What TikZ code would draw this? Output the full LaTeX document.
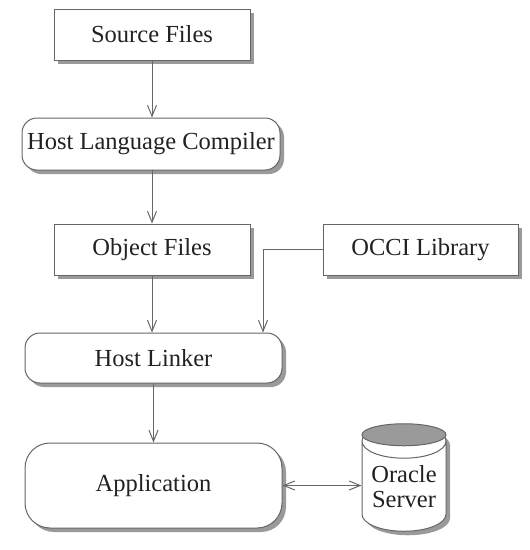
\documentclass[tikz,border=0pt]{standalone}
\usepackage{fontspec}
\setmainfont{Liberation Serif}
\usetikzlibrary{arrows.meta,shapes.geometric,shadows}
\definecolor{linec}{HTML}{666666}
\definecolor{shadc}{HTML}{9A9A9A}
\definecolor{textc}{HTML}{222222}
\begin{document}
\begin{tikzpicture}[x=1pt,y=-1pt,
  base/.style={draw=linec, line width=1pt, fill=white, text=textc,
    font=\fontsize{24.5}{25}\selectfont, inner sep=0pt,
    drop shadow={shadow xshift=4pt, shadow yshift=-4pt, fill=shadc, opacity=1}},
  sqbox/.style={base, rectangle},
  rbox/.style={base, rectangle, rounded corners=15pt},
  conn/.style={draw=linec, line width=1pt, -{Straight Barb[length=11pt,width=9pt]}},
]
\useasboundingbox (0,0) rectangle (530,550);
\node[sqbox, minimum width=196pt, minimum height=51pt] (sf) at (152,34.5) {Source Files};
\node[rbox, minimum width=258pt, minimum height=52pt] (hlc) at (151,144) {Host Language Compiler};
\node[sqbox, minimum width=196pt, minimum height=51pt] (of) at (152,249.5) {Object Files};
\node[sqbox, minimum width=195pt, minimum height=51pt] (occi) at (420.5,249.5) {OCCI Library};
\node[rbox, minimum width=257pt, minimum height=50pt] (hl) at (153.5,358) {Host Linker};
\node[base, rectangle, rounded corners=25pt, minimum width=257pt, minimum height=85pt] (app) at (153.5,485.5) {Application};
\node[base, cylinder, shape border rotate=90, aspect=0.52, align=center,
  minimum width=84pt, minimum height=107pt] (ora) at (404,486.5) {Oracle\\Server};
\filldraw[fill=shadc, draw=linec, line width=1pt] ([yshift=-11pt]ora.north) ellipse [x radius=42pt, y radius=11pt];

\draw[conn] (sf.south) -- (hlc.north -| sf.south);
\draw[conn] (hlc.north -| sf.south) ++(0,52) -- (of.north);
\draw[conn] (of.south) -- (hl.north -| of.south);
\draw[conn] (occi.west) -| ([xshift=109.5pt]hl.north);
\draw[conn] (hl.south) -- (app.north);
\draw[conn, {Straight Barb[length=11pt,width=9pt]}-{Straight Barb[length=11pt,width=9pt]}] (app.east) -- (app.east -| ora.west);
\end{tikzpicture}
\end{document}
